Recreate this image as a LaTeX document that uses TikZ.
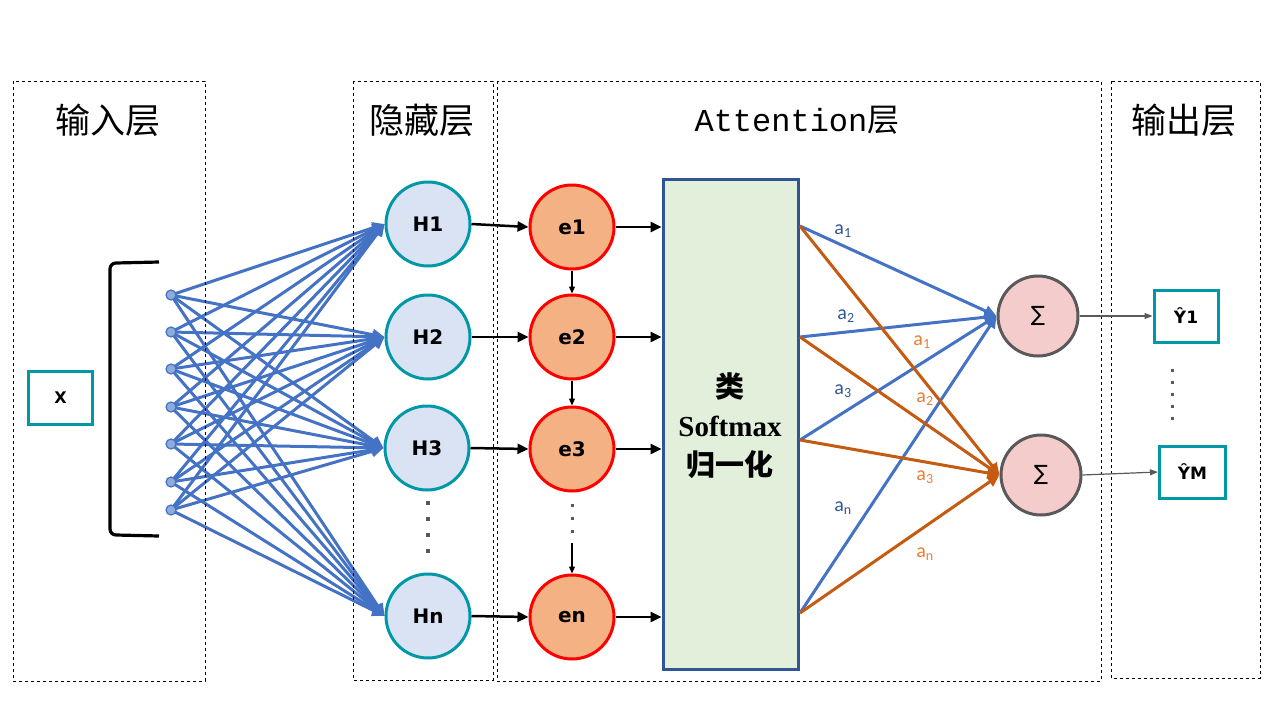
\documentclass[tikz,border=0pt]{standalone}
\usepackage{fontspec}
\setmainfont{Liberation Serif}
\newfontfamily\cjk{Noto Sans CJK SC}
\newfontfamily\dvs{DejaVu Sans}
\newfontfamily\monof{Liberation Mono}
\newfontfamily\calf{Carlito}
\usetikzlibrary{arrows.meta,backgrounds}
\definecolor{teal1}{HTML}{0097A7}
\definecolor{blue1}{HTML}{4472C4}
\definecolor{blue2}{HTML}{2F5597}
\definecolor{hfill}{HTML}{DAE3F3}
\definecolor{efill}{HTML}{F4B183}
\definecolor{sfill}{HTML}{F4CCCC}
\definecolor{gfill}{HTML}{E2EFDA}
\definecolor{orange1}{HTML}{C55A11}
\definecolor{orange2}{HTML}{ED7D31}
\definecolor{grey1}{HTML}{595959}
\definecolor{dotfill}{HTML}{8FAADC}
\tikzset{
  layerbox/.style={draw=black,dashed,line width=0.8pt},
  title/.style={font=\cjk\fontsize{35}{38}\selectfont},
  hnode/.style={circle,draw=teal1,fill=hfill,line width=3pt,minimum size=84pt,inner sep=0pt,font=\dvs\bfseries\fontsize{20}{22}\selectfont},
  enode/.style={circle,draw=red,fill=efill,line width=3pt,minimum size=84pt,inner sep=0pt,font=\dvs\bfseries\fontsize{20}{22}\selectfont},
  snode/.style={circle,draw=grey1,fill=sfill,line width=3pt,minimum size=80pt,inner sep=0pt,font=\dvs\fontsize{21}{23}\selectfont},
  outbox/.style={draw=teal1,line width=3pt,fill=white,minimum width=64pt,minimum height=52pt,inner sep=0pt,font=\dvs\bfseries\fontsize{17}{20}\selectfont},
  indot/.style={circle,draw=blue1,fill=dotfill,line width=1.2pt,minimum size=10pt,inner sep=0pt},
  inarrow/.style={draw=blue1,line width=3pt,-{Triangle[length=12pt,width=11pt]}},
  blackarrow/.style={draw=black,line width=2.5pt,-{Triangle[length=11pt,width=10pt]}},
  thinarrow/.style={draw=black,line width=1.2pt,-{Triangle[length=7pt,width=6pt]}},
  bluearrow/.style={draw=blue1,line width=3pt,-{Triangle[length=12pt,width=11pt]}},
  orangearrow/.style={draw=orange1,line width=3pt,-{Triangle[length=12pt,width=11pt]}},
  greyarrow/.style={draw=grey1,line width=1.2pt,-{Triangle[length=8pt,width=6pt]}},
  bluelab/.style={text=blue2,font=\calf\fontsize{20}{22}\selectfont},
  orangelab/.style={text=orange2,font=\calf\fontsize{20}{22}\selectfont},
  gdot/.style={fill=grey1,minimum size=4pt,inner sep=0pt}
}
\begin{document}
\begin{tikzpicture}[x=1pt,y=-1pt]
\useasboundingbox (0,0) rectangle (1280,720);
% layer boxes
\draw[layerbox] (13,81) rectangle (205,681);
\draw[layerbox] (353,81) rectangle (493,680);
\draw[layerbox] (497,81) rectangle (1101,681);
\draw[layerbox] (1111,81) rectangle (1260,678);
\node[title] (t1) at (108,120) {输入层};
\node[title] (t2) at (422,120) {隐藏层};
\node[font=\fontsize{32}{35}\selectfont] (t3) at (797,120) {\monof Attention\cjk 层};
\node[title] (t4) at (1184,120) {输出层};
% input
\node[draw=teal1,line width=3pt,minimum width=64pt,minimum height=53pt,inner sep=0pt,font=\dvs\bfseries\fontsize{16}{18}\selectfont] (x) at (60.5,398) {X};
\draw[line width=3.2pt] (159,262) -- (116,263) to[out=180,in=90] (110,269) -- (110,529) to[out=-90,in=180] (116,535) -- (159,536);
\foreach \i/\yy in {1/295,2/332,3/369,4/407,5/444,6/482,7/510}
  \node[indot] (d\i) at (171,\yy) {};
% hidden
\node[hnode] (H1) at (428,224) {H1};
\node[hnode] (H2) at (428,337) {H2};
\node[hnode] (H3) at (427,448) {H3};
\node[hnode] (Hn) at (428,616) {Hn};
\foreach \yy in {503,519,535,551} \node[gdot] at (428,\yy) {};
\begin{scope}[on background layer]
\foreach \i in {1,...,7}
  \foreach \h in {H1,H2,H3,Hn}
    \draw[inarrow] (d\i.center) -- (\h.west);
\end{scope}
% e nodes
\node[enode] (e1) at (572,227) {e1};
\node[enode] (e2) at (572,337) {e2};
\node[enode] (e3) at (572,449) {e3};
\node[enode] (en) at (572,617) {en};
\foreach \yy in {505,518,531} \node[gdot,minimum size=3pt] at (572,\yy) {};
\coordinate (ecut) at (572,543);
\draw[blackarrow] (H1.east) -- (e1.west);
\draw[blackarrow] (H2.east) -- (e2.west);
\draw[blackarrow] (H3.east) -- (e3.west);
\draw[blackarrow] (Hn.east) -- (en.west);
\draw[thinarrow] (e1.south) -- (e2.north);
\draw[thinarrow] (e2.south) -- (e3.north);
\draw[thinarrow] (ecut) -- (en.north);
% softmax box
\node[draw=blue2,fill=gfill,line width=3pt,minimum width=135pt,minimum height=490pt,inner sep=0pt] (box) at (730.5,424) {};
\node[align=center,font=\bfseries\fontsize{29}{39}\selectfont] (boxtext) at (730,426) {{\cjk 类}\\Softmax\\{\cjk 归一化}};
\foreach \e in {e1,e2,e3,en}
  \draw[blackarrow] (\e.east) -- (\e.east -| box.west);
% sum nodes
\node[snode] (S1) at (1038,316) {∑};
\node[snode] (S2) at (1041,475) {∑};
\coordinate (p1) at (800,226);
\coordinate (p2) at (800,337);
\coordinate (p3) at (800,440);
\coordinate (p4) at (800,613);
\foreach \p in {p1,p2,p3,p4} \draw[bluearrow] (\p) -- (S1.west);
\foreach \p in {p1,p2,p3,p4} \draw[orangearrow] (\p) -- (S2.west);
\node[bluelab] at (843,231) {a\textsubscript{1}};
\node[bluelab] at (846,316) {a\textsubscript{2}};
\node[bluelab] at (843,391) {a\textsubscript{3}};
\node[bluelab] at (843,508) {a\textsubscript{n}};
\node[orangelab] at (922,342) {a\textsubscript{1}};
\node[orangelab] at (925,399) {a\textsubscript{2}};
\node[orangelab] at (925,477) {a\textsubscript{3}};
\node[orangelab] at (925,554) {a\textsubscript{n}};
% outputs
\node[outbox] (Y1) at (1186,316) {Ŷ1};
\node[outbox,minimum width=66pt] (YM) at (1192.5,472) {ŶM};
\foreach \yy in {370,382,394,406,418} \node[gdot,minimum size=3pt] at (1172,\yy) {};
\draw[greyarrow] (S1.east) -- (Y1.west);
\draw[greyarrow] (S2.east) -- (YM.west);
\end{tikzpicture}
\end{document}
